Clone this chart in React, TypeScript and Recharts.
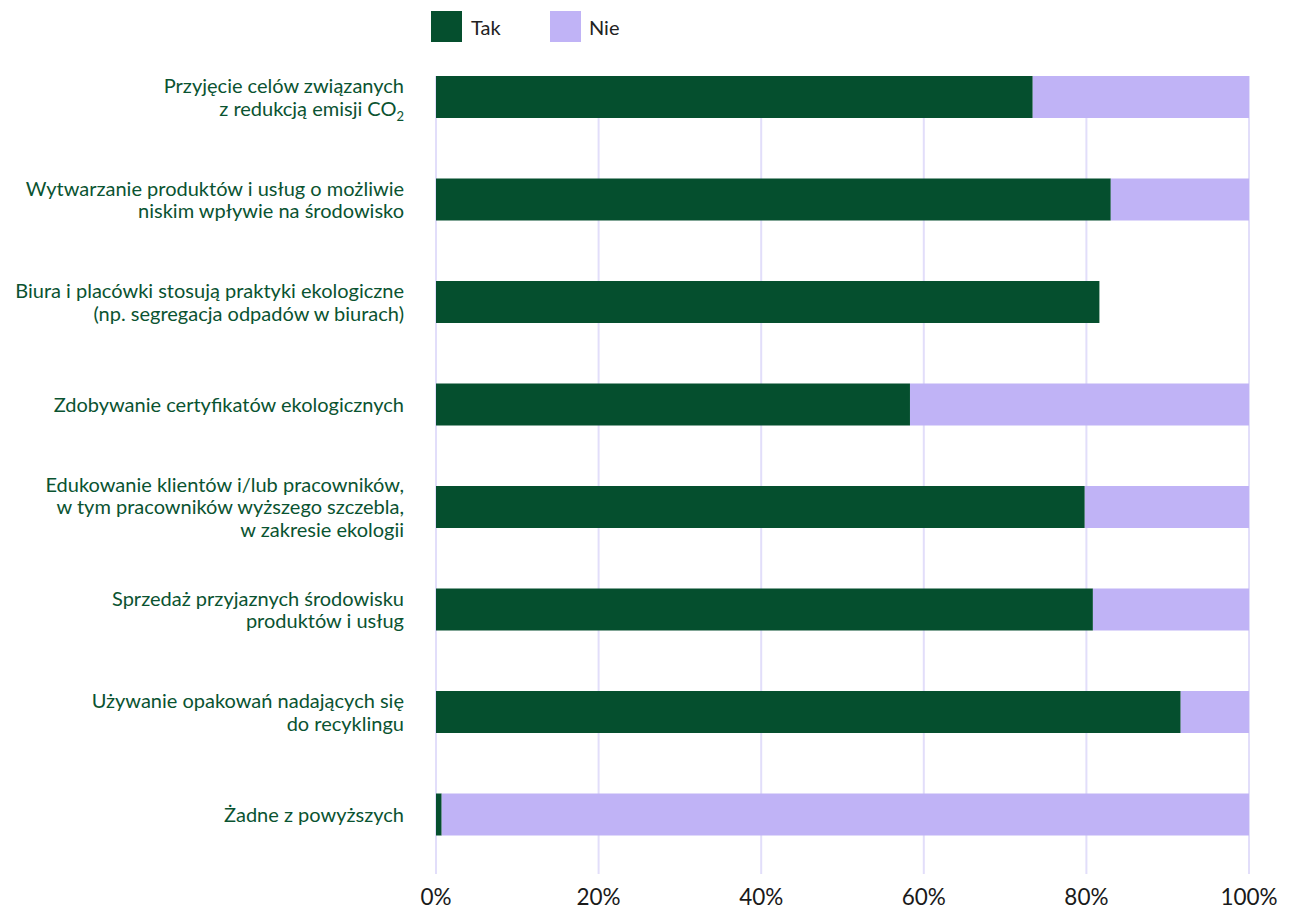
import React from "react";
import { BarChart, Bar, XAxis, YAxis, CartesianGrid } from "recharts";

const categories: string[] = [
  "Przyjęcie celów związanych\nz redukcją emisji CO₂",
  "Wytwarzanie produktów i usług o możliwie\nniskim wpływie na środowisko",
  "Biura i placówki stosują praktyki ekologiczne\n(np. segregacja odpadów w biurach)",
  "Zdobywanie certyfikatów ekologicznych",
  "Edukowanie klientów i/lub pracowników,\nw tym pracowników wyższego szczebla,\nw zakresie ekologii",
  "Sprzedaż przyjaznych środowisku\nproduktów i usług",
  "Używanie opakowań nadających się\ndo recyklingu",
  "Żadne z powyższych",
];

const takValues: number[] = [73.4, 83.0, 81.6, 58.3, 79.8, 80.8, 91.6, 0.7];
const nieValues: number[] = [26.6, 17.0, 0, 41.7, 20.2, 19.2, 8.4, 99.3];

const xTicks: number[] = [0, 20, 40, 60, 80, 100];

const seriesNames = { tak: "Tak", nie: "Nie" };

const GREEN = "#054F2E";
const LAVENDER = "#C0B3F6";
const LABEL_COLOR = "#0A5331";
const FONT = "Lato, 'Open Sans', sans-serif";

const data = categories.map((c, i) => ({
  category: c,
  tak: takValues[i],
  nie: nieValues[i],
}));

const LINE_H = 22.5;

function renderLine(line: string) {
  const idx = line.indexOf("₂");
  if (idx < 0) return line;
  const before = line.slice(0, idx);
  return (
    <>
      {before}
      <tspan fontSize={13} dy={5}>2</tspan>
    </>
  );
}

const YTick = (props: any) => {
  const { y, payload } = props;
  const lines: string[] = String(payload.value).split("\n");
  const startDy = -((lines.length - 1) * LINE_H) / 2;
  return (
    <g>
      {lines.map((ln, i) => (
        <text
          key={i}
          x={404}
          y={y + startDy + i * LINE_H}
          dy="0.35em"
          textAnchor="end"
          fontSize={20}
          fontFamily={FONT}
          fill={LABEL_COLOR}
        >
          {renderLine(ln)}
        </text>
      ))}
    </g>
  );
};

const LegendBox = () => (
  <div
    style={{
      position: "absolute",
      top: 11,
      left: 431,
      display: "flex",
      alignItems: "center",
      fontFamily: FONT,
      fontSize: 20,
      color: "#222",
    }}
  >
    <div style={{ width: 31, height: 31, background: GREEN }} />
    <span style={{ marginLeft: 9, width: 79 }}>{seriesNames.tak}</span>
    <div style={{ width: 31, height: 31, background: LAVENDER }} />
    <span style={{ marginLeft: 8 }}>{seriesNames.nie}</span>
  </div>
);

export default function App() {
  return (
    <div style={{ position: "absolute", left: 0, top: 0, width: 1296, height: 911, background: "#fff" }}>
      <BarChart
        width={1296}
        height={911}
        data={data}
        layout="vertical"
        margin={{ top: 46, right: 47, bottom: 0, left: 0 }}
        barCategoryGap={0}
      >
        <CartesianGrid horizontal={false} stroke="#E2DEFA" strokeWidth={2} y={76} height={798} />
        <XAxis
          type="number"
          domain={[0, 100]}
          ticks={xTicks}
          tickFormatter={(v: number) => `${v}%`}
          axisLine={false}
          tickLine={false}
          height={45}
          tickMargin={17}
          tick={{ fontSize: 22.5, fill: "#1a1a1a", fontFamily: FONT }}
          interval={0}
        />
        <YAxis
          type="category"
          dataKey="category"
          width={436}
          axisLine={false}
          tickLine={false}
          tick={<YTick />}
          interval={0}
        />
        <Bar dataKey="tak" name={seriesNames.tak} stackId="a" fill={GREEN} barSize={42} isAnimationActive={false} />
        <Bar dataKey="nie" name={seriesNames.nie} stackId="a" fill={LAVENDER} barSize={42} isAnimationActive={false} />
      </BarChart>
      <LegendBox />
    </div>
  );
}
